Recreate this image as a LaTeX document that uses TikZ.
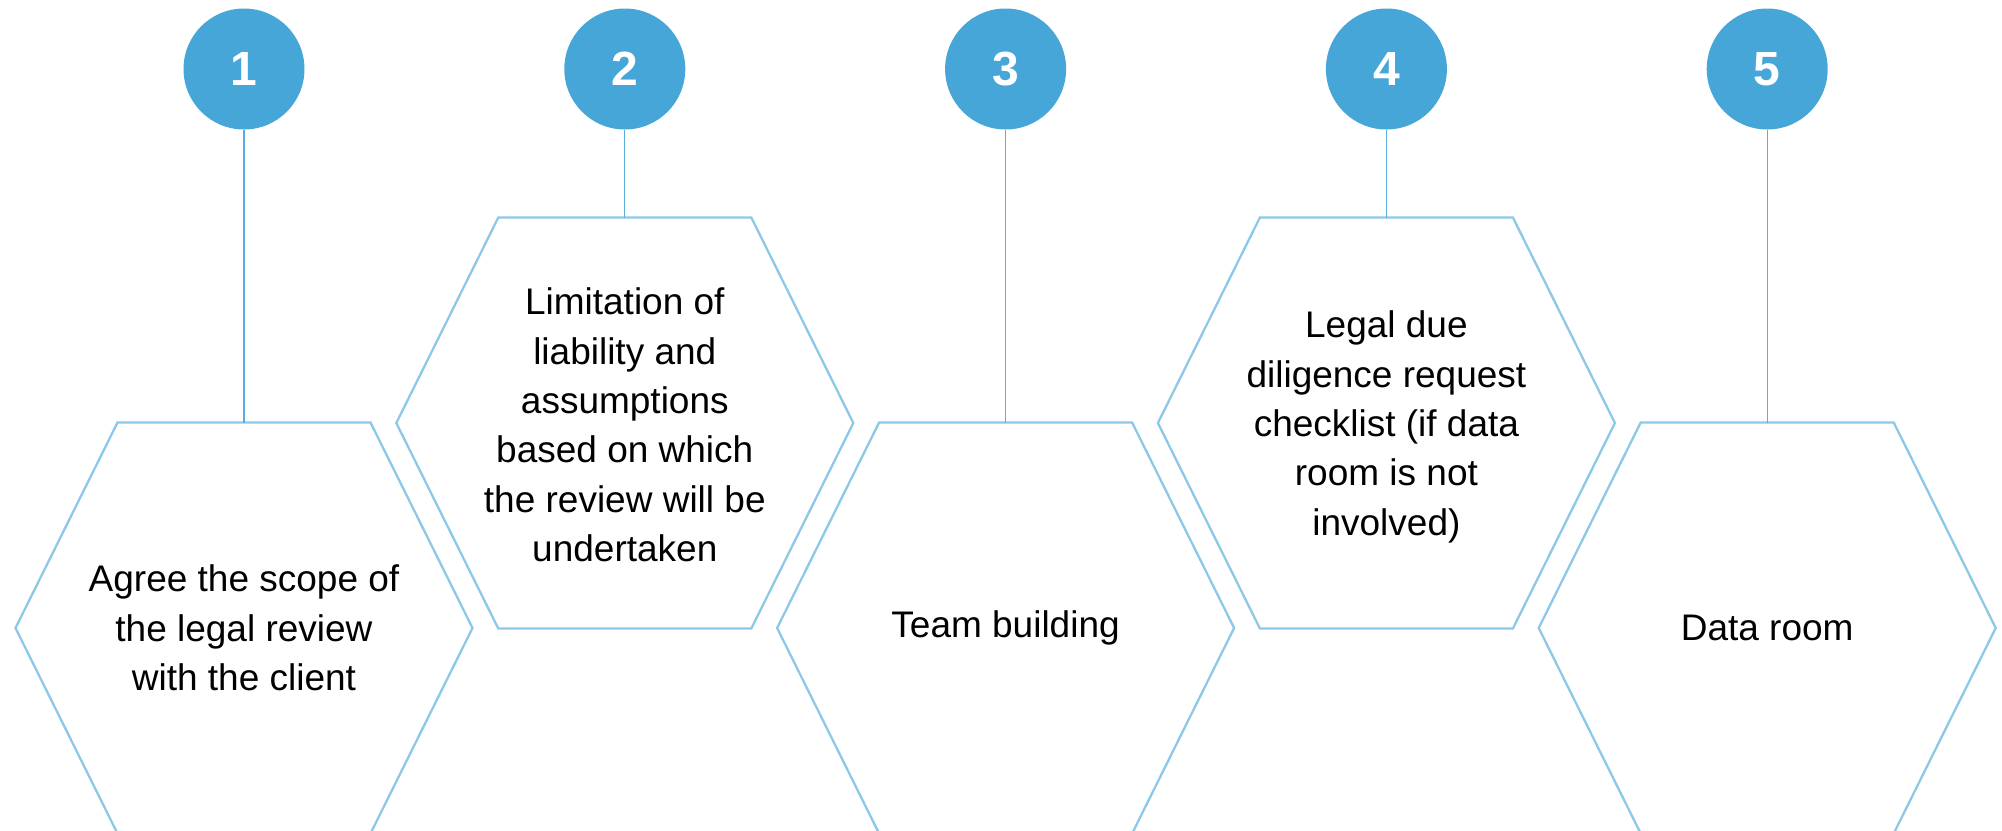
\documentclass[tikz,border=0pt]{standalone}
\usepackage{fontspec}
\setmainfont{Liberation Sans}
\definecolor{numfill}{HTML}{46A6D8}
\definecolor{hexline}{HTML}{8DC8E8}
\definecolor{stemline}{HTML}{5AAEDC}

\begin{document}
\begin{tikzpicture}[x=1pt,y=-1pt,
  numdot/.style={circle, fill=numfill, minimum size=121pt, inner sep=0pt,
    text=white, font=\bfseries\fontsize{48}{48}\selectfont},
  hexedge/.style={draw=hexline, line width=2.3pt, line join=miter},
  stem/.style={draw=stemline, line width=1.3pt},
  steptext/.style={align=center, text=black,
    font=\fontsize{37}{49.4}\selectfont}
]
\useasboundingbox (0,0) rectangle (2002,830);
\clip (0,0) rectangle (2002,830);

% hexagons, numbered dots and the stems joining them
\foreach \i/\cy in {1/628, 2/423, 3/628, 4/423, 5/628} {
  \pgfmathsetmacro\cx{244+380.8*(\i-1)}
  \draw[hexedge] (\cx-228.5,\cy) -- (\cx-126.5,\cy-205.5)
    -- (\cx+126.5,\cy-205.5) -- (\cx+228.5,\cy)
    -- (\cx+126.5,\cy+205.5) -- (\cx-126.5,\cy+205.5) -- cycle;
  \coordinate (top\i) at (\cx,\cy-205.5);
  \node[numdot] (num\i) at (\cx,69) {\i};
  \draw[stem] (num\i.south) -- (top\i);
}

% step descriptions
\node[steptext] (txt1) at (244,628)
  {Agree the scope of\\the legal review\\with the client};
\node[steptext] (txt2) at (624.8,425)
  {Limitation of\\liability and\\assumptions\\based on which\\the review will be\\undertaken};
\node[steptext] (txt3) at (1005.6,628) {Team building};
\node[steptext] (txt4) at (1386.4,427)
  {Legal due\\diligence request\\checklist (if data\\room is not\\involved)};
\node[steptext] (txt5) at (1767.2,628) {Data room};
\end{tikzpicture}
\end{document}
